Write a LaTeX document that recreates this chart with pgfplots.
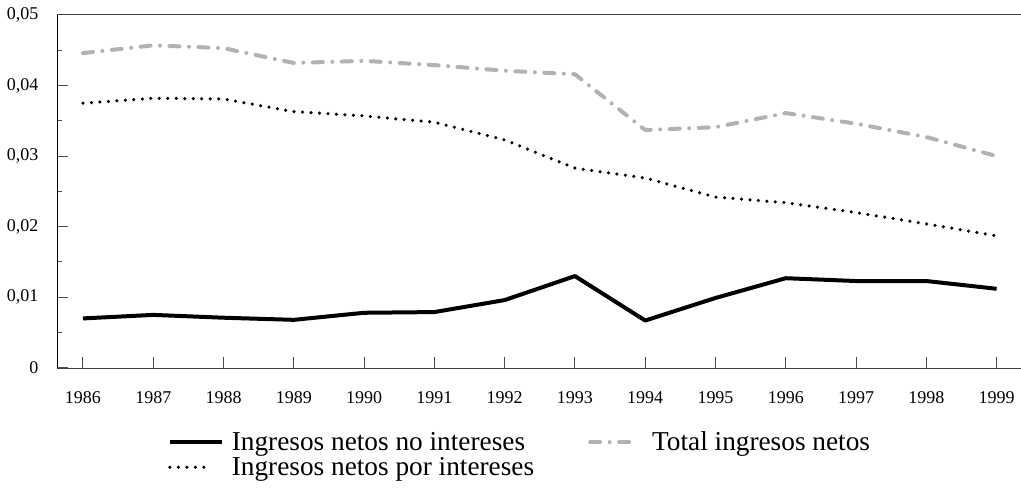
\documentclass[border=0pt]{standalone}
\usepackage{pgfplots}
\pgfplotsset{compat=1.18}
\usepackage{fontspec}
\setmainfont{Liberation Serif}
\pgfplotsset{
  leggrey/.style={legend image code/.code={\draw[##1] (0pt,0pt) -- (43pt,0pt); \path[draw=none] (0pt,0pt) -- (60pt,0pt);}},
  legdot/.style={legend image code/.code={\draw[##1] (0pt,0pt) -- (35pt,0pt); \path[draw=none] (0pt,0pt) -- (60pt,0pt);}},
}
\begin{document}
\begin{tikzpicture}
\begin{axis}[
  scale only axis,
  width=964pt, height=353pt,
  at={(0pt,0pt)}, anchor=south west,
  xmin=1985.63, xmax=1999.34,
  ymin=0, ymax=0.05,
  scaled y ticks=false,
  axis x line*=bottom, axis y line*=left,
  x axis line style={draw=black!75},
  y axis line style={draw=black},
  tick align=inside,
  xtick={1986,1987,1988,1989,1990,1991,1992,1993,1994,1995,1996,1997,1998,1999},
  xticklabels={1986,1987,1988,1989,1990,1991,1992,1993,1994,1995,1996,1997,1998,1999},
  ytick={0,0.01,0.02,0.03,0.04,0.05},
  yticklabels={0,{0,01},{0,02},{0,03},{0,04},{0,05}},
  minor y tick num=1,
  major tick length=11pt,
  minor tick length=5pt,
  tick style={line width=1pt, black!70},
  ticklabel style={font=\fontsize{18}{20}\selectfont},
  xticklabel style={yshift=-20pt},
  yticklabel style={xshift=-15pt},
  every axis plot/.append style={line join=round},
  clip=false,
  legend columns=2,
  legend cell align=left,
  legend style={draw=none, fill=none, at={(0.1118,-0.17)}, anchor=north west,
    font=\fontsize{27.3}{29}\selectfont,
    /tikz/every even column/.append style={column sep=52pt},
    row sep=1pt},
  legend image code/.code={\draw[#1] (0pt,0pt) -- (52pt,0pt); \path[draw=none] (0pt,0pt) -- (60pt,0pt);},
]
\addplot[black, line width=4pt] coordinates {
(1986,0.0070) (1987,0.0075) (1988,0.0071) (1989,0.0068) (1990,0.0078)
(1991,0.0079) (1992,0.0096) (1993,0.0130) (1994,0.0067) (1995,0.0099)
(1996,0.0127) (1997,0.0123) (1998,0.0123) (1999,0.0112)};
\addlegendentry{Ingresos netos no intereses}
\addplot[black!30, line width=4pt, line cap=round, dash pattern=on 10pt off 9.5pt on 0pt off 9.5pt, leggrey] coordinates {
(1986,0.0446) (1987,0.0457) (1988,0.0453) (1989,0.0432) (1990,0.0435)
(1991,0.0429) (1992,0.0421) (1993,0.0416) (1994,0.0337) (1995,0.0341)
(1996,0.0361) (1997,0.0346) (1998,0.0327) (1999,0.0300)};
\addlegendentry{Total ingresos netos}
\addplot[black, line width=3.5pt, line cap=round, dash pattern=on 0pt off 8.5pt, legdot] coordinates {
(1986,0.0375) (1987,0.0382) (1988,0.0381) (1989,0.0363) (1990,0.0357)
(1991,0.0348) (1992,0.0323) (1993,0.0283) (1994,0.0269) (1995,0.0242)
(1996,0.0234) (1997,0.0220) (1998,0.0204) (1999,0.0187)};
\addlegendentry{Ingresos netos por intereses}
\draw[black!75, line width=1pt] (rel axis cs:0,1) -- (rel axis cs:1,1);
\end{axis}
\useasboundingbox (-57pt,-127pt) rectangle (964pt,368pt);
\end{tikzpicture}
\end{document}
